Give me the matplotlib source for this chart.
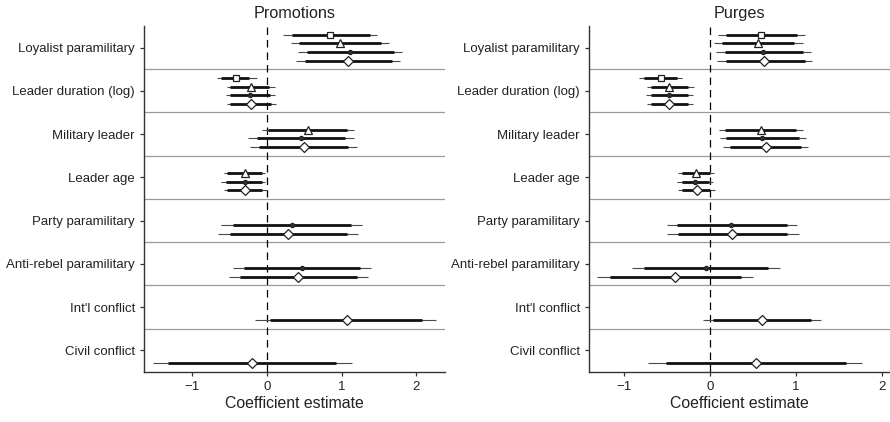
import numpy as np
import matplotlib.pyplot as plt

plt.rcParams['font.family'] = ['Liberation Sans', 'DejaVu Sans']

variables = ['Loyalist paramilitary', 'Leader duration (log)', 'Military leader',
             'Leader age', 'Party paramilitary', 'Anti-rebel paramilitary',
             "Int'l conflict", 'Civil conflict']
nan = np.nan

# Promotions: point estimate, 95% interval (thin), 90% interval (thick) per model
promo_est = [
    [0.85, -0.41, nan, nan, nan, nan, nan, nan],
    [0.98, -0.21, 0.55, -0.30, nan, nan, nan, nan],
    [1.11, -0.23, 0.46, -0.30, 0.34, 0.47, nan, nan],
    [1.09, -0.21, 0.49, -0.29, 0.28, 0.42, 1.07, -0.20],
]
promo_lo95 = [
    [0.22, -0.67, nan, nan, nan, nan, nan, nan],
    [0.32, -0.54, -0.07, -0.58, nan, nan, nan, nan],
    [0.42, -0.55, -0.26, -0.61, -0.61, -0.46, nan, nan],
    [0.39, -0.54, -0.23, -0.58, -0.65, -0.51, -0.16, -1.53],
]
promo_hi95 = [
    [1.48, -0.13, nan, nan, nan, nan, nan, nan],
    [1.64, 0.11, 1.17, -0.02, nan, nan, nan, nan],
    [1.81, 0.11, 1.16, -0.02, 1.28, 1.39, nan, nan],
    [1.78, 0.12, 1.20, 0.00, 1.22, 1.36, 2.27, 1.14],
]
promo_lo90 = [
    [0.33, -0.62, nan, nan, nan, nan, nan, nan],
    [0.43, -0.49, 0.02, -0.53, nan, nan, nan, nan],
    [0.53, -0.50, -0.13, -0.55, -0.46, -0.31, nan, nan],
    [0.51, -0.49, -0.10, -0.53, -0.50, -0.36, 0.04, -1.32],
]
promo_hi90 = [
    [1.38, -0.24, nan, nan, nan, nan, nan, nan],
    [1.53, 0.03, 1.07, -0.07, nan, nan, nan, nan],
    [1.70, 0.04, 1.04, -0.07, 1.13, 1.25, nan, nan],
    [1.67, 0.05, 1.09, -0.06, 1.07, 1.20, 2.08, 0.92],
]

# Purges
purge_est = [
    [0.59, -0.57, nan, nan, nan, nan, nan, nan],
    [0.56, -0.47, 0.59, -0.16, nan, nan, nan, nan],
    [0.62, -0.47, 0.61, -0.17, 0.25, -0.05, nan, nan],
    [0.63, -0.47, 0.65, -0.15, 0.26, -0.41, 0.60, 0.53],
]
purge_lo95 = [
    [0.09, -0.82, nan, nan, nan, nan, nan, nan],
    [0.05, -0.73, 0.10, -0.37, nan, nan, nan, nan],
    [0.07, -0.74, 0.12, -0.38, -0.50, -0.91, nan, nan],
    [0.08, -0.73, 0.15, -0.37, -0.50, -1.31, -0.08, -0.72],
]
purge_hi95 = [
    [1.10, -0.33, nan, nan, nan, nan, nan, nan],
    [1.08, -0.19, 1.08, 0.05, nan, nan, nan, nan],
    [1.18, -0.20, 1.12, 0.04, 1.01, 0.81, nan, nan],
    [1.19, -0.20, 1.14, 0.06, 1.03, 0.50, 1.29, 1.77],
]
purge_lo90 = [
    [0.19, -0.77, nan, nan, nan, nan, nan, nan],
    [0.14, -0.68, 0.17, -0.33, nan, nan, nan, nan],
    [0.17, -0.69, 0.19, -0.33, -0.38, -0.77, nan, nan],
    [0.19, -0.68, 0.23, -0.32, -0.37, -1.16, 0.03, -0.51],
]
purge_hi90 = [
    [1.01, -0.38, nan, nan, nan, nan, nan, nan],
    [0.98, -0.25, 1.00, 0.00, nan, nan, nan, nan],
    [1.08, -0.25, 1.04, -0.01, 0.89, 0.68, nan, nan],
    [1.10, -0.25, 1.06, 0.00, 0.90, 0.36, 1.18, 1.58],
]

# marker style per model: (marker, size, facecolor)
model_styles = [('s', 3.8, 'white'), ('^', 5.2, 'white'),
                ('o', 3.0, '#333333'), ('D', 4.6, 'white')]
offsets = [-0.3, -0.1, 0.1, 0.3]

fig = plt.figure(figsize=(8.9, 4.22), dpi=100)
ax_left = fig.add_axes([0.1618, 0.1185, 0.338, 0.82])
ax_right = fig.add_axes([0.6618, 0.1185, 0.338, 0.82])

panels = [
    (ax_left, 'Promotions', (-1.647, 2.383),
     promo_est, promo_lo95, promo_hi95, promo_lo90, promo_hi90),
    (ax_right, 'Purges', (-1.405, 2.09),
     purge_est, purge_lo95, purge_hi95, purge_lo90, purge_hi90),
]

ink = '#333333'
for ax, title, xlim, est, lo95, hi95, lo90, hi90 in panels:
    rows = np.arange(len(variables))
    for r in rows[:-1]:
        ax.axhline(r + 0.5, color='#9a9a9a', lw=0.9, zorder=1)
    ax.axvline(0, color='black', lw=0.9, ls=(0, (6, 4)), zorder=1)

    for m, (mk, ms, fc) in enumerate(model_styles):
        y = rows + offsets[m]
        e = np.array(est[m])
        ok = ~np.isnan(e)
        ax.hlines(y[ok], np.array(lo95[m])[ok], np.array(hi95[m])[ok],
                  color='#4a4a4a', lw=0.8, zorder=2)
        ax.hlines(y[ok], np.array(lo90[m])[ok], np.array(hi90[m])[ok],
                  color='#111111', lw=2.0, zorder=3)
        ax.plot(e[ok], y[ok], ls='none', marker=mk, ms=ms, mfc=fc,
                mec='#222222', mew=0.9, zorder=4)

    ax.set_xlim(*xlim)
    ax.set_ylim(len(variables) - 0.5, -0.5)
    ax.set_yticks(rows)
    ax.set_yticklabels(variables)
    ax.set_xticks([-1, 0, 1, 2])
    ax.set_xticklabels(['\u22121', '0', '1', '2'])
    ax.set_title(title, fontsize=11.7, color='#222222', pad=6)
    ax.set_xlabel('Coefficient estimate', fontsize=11.4, color='#222222', labelpad=2)
    ax.tick_params(axis='both', labelsize=9.5, colors=ink, length=3, width=0.9)
    ax.tick_params(axis='x', labelcolor='#222222')
    ax.tick_params(axis='y', labelcolor='#222222')
    for side in ('top', 'right'):
        ax.spines[side].set_visible(False)
    for side in ('left', 'bottom'):
        ax.spines[side].set_color(ink)
        ax.spines[side].set_linewidth(1.0)

fig.savefig('out.png', dpi=100)
